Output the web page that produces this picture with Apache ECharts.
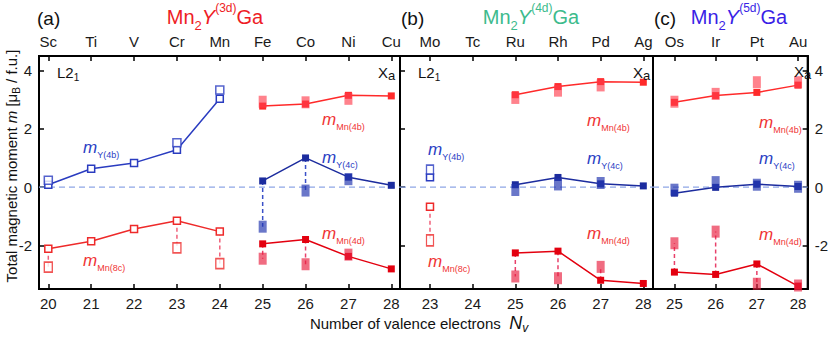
<!DOCTYPE html>
<html><head><meta charset="utf-8">
<script src="https://cdn.jsdelivr.net/npm/echarts@6/dist/echarts.min.js"></script>
<style>html,body{margin:0;padding:0;background:#fff}#c{width:831px;height:338px}</style>
</head><body><div id="c"></div>
<script>
// ---------- DATA ----------
// Panel (a) Mn2Y(3d)Ga
const elemA = ['Sc','Ti','V','Cr','Mn','Fe','Co','Ni','Cu'];
const nvA = [20,21,22,23,24,25,26,27,28];
const nvA_L21 = [20,21,22,23,24];
const a_mY4b = [0.08,0.63,0.83,1.28,3.03];
const a_mY4b_alt = [0.23,null,null,1.52,3.33];
const a_mMn8c = [-2.12,-1.86,-1.44,-1.16,-1.53];
const a_mMn8c_alt = [-2.75,null,null,-2.09,-2.63];
const nvA_Xa = [25,26,27,28];
const a_mMn4b = [2.78,2.85,3.15,3.13];
const a_mMn4b_alt = [2.93,2.91,3.03,null];
const a_mY4c = [0.21,1.00,0.34,0.06];
const a_mY4c_alt = [-1.36,-0.12,0.27,null];
const a_mMn4d = [-1.95,-1.80,-2.38,-2.81];
const a_mMn4d_alt = [-2.46,-2.65,-2.32,null];
// Panel (b) Mn2Y(4d)Ga
const elemB = ['Mo','Tc','Ru','Rh','Pd','Ag'];
const nvB = [23,24,25,26,27,28];
const nvB_L21 = [23];
const b_mY4b = [0.34];
const b_mY4b_alt = [0.60];
const b_mMn8c = [-0.68];
const b_mMn8c_alt = [-1.83];
const nvB_Xa = [25,26,27,28];
const b_mMn4b = [3.17,3.45,3.62,3.60];
const b_mMn4b_alt = [3.06,3.31,3.49,null];
const b_mY4c = [0.08,0.33,0.11,0.04];
const b_mY4c_alt = [-0.10,0.09,0.14,null];
const b_mMn4d = [-2.26,-2.20,-3.20,-3.31];
const b_mMn4d_alt = [-3.07,-3.13,-2.74,null];
// Panel (c) Mn2Y(5d)Ga
const elemC = ['Os','Ir','Pt','Au'];
const nvC = [25,26,27,28];
const c_mMn4b = [2.91,3.14,3.25,3.50];
const c_mMn4b_alt = [2.93,3.20,3.60,3.60];
const c_mY4c = [-0.21,-0.01,0.10,0.02];
const c_mY4c_alt = [-0.09,0.17,0.08,0.01];
const c_mMn4d = [-2.92,-3.00,-2.64,-3.40];
const c_mMn4d_alt = [-1.93,-1.53,-3.32,-3.38];
const yTicks = [-2,0,2,4];

// ---------- STYLE ----------
const FONT = "'Liberation Sans Narrow','Liberation Sans',Arial,sans-serif";
const RED = '#ff2a2a', RED_D = '#e3000f', RED_ALT = 'rgba(232,30,62,0.82)', RED_ALT2 = 'rgba(255,60,75,0.8)';
const BLUE = '#1c2c9e', BLUE_O = '#2a3cc0', BLUE_ALT = 'rgba(35,55,175,0.85)';
const RED_O = '#ee2a2a';
const ZERO = '#8ea6e6';
const xRange = [[19.783, 28.203], [22.297, 28.227], [24.48, 28.233]];

const chart = echarts.init(document.getElementById('c'), null, {renderer:'svg', width:831, height:338});

function xAx(gi, vals, pos, names, first){
  return {type:'value', gridIndex:gi, position:pos, min:xRange[gi][0], max:xRange[gi][1],
    axisLine:{show:true, onZero:false, lineStyle:{color:'#000', width:2}},
    axisTick:{show:true, inside:true, length:5, lineStyle:{color:'#000', width:1.5}, customValues:vals},
    axisLabel:{show:true, customValues:vals, fontSize:15, color:'#1a1a1a', fontFamily:FONT, margin:7,
      formatter: names ? (v => names[Math.round(v) - first]) : (v => String(v))},
    splitLine:{show:false}};
}
function yAx(gi, pos, ticks, labels){
  return {type:'value', gridIndex:gi, position:pos, min:-3.5, max:4.5,
    axisLine:{show:true, onZero:false, lineStyle:{color:'#000', width:2}},
    axisTick:{show:ticks, inside:true, length:5, lineStyle:{color:'#000', width:1.5}, customValues:yTicks},
    axisLabel:{show:labels, customValues:yTicks, fontSize:15, color:'#1a1a1a', fontFamily:FONT, margin:7},
    splitLine:{show:false}};
}

const series = [];
// zero reference line in each panel (spans the axis range)
[0,1,2].forEach(gi => series.push({type:'line', xAxisIndex:gi*2, yAxisIndex:gi, symbol:'none', z:1, silent:true,
  data:[[xRange[gi][0],0],[xRange[gi][1],0]], lineStyle:{color:ZERO, width:1.2, type:[6,4]}}));

function addPair(gi, yi, xs, main, alt, opt){
  const pts = xs.map((x,i)=>[x, main[i]]);
  series.push({type:'line', xAxisIndex:gi*2, yAxisIndex:yi, data:pts, symbol:'rect', symbolSize:[7,7],
    lineStyle:{color:opt.color, width:1.5}, z:4,
    itemStyle: opt.open ? {color:'#fff', borderColor:opt.color, borderWidth:1.5} : {color:opt.color}});
  const altPts = [];
  xs.forEach((x,i)=>{ if (alt[i] !== null && alt[i] !== undefined) altPts.push([x, alt[i]]); });
  series.push({type:'scatter', xAxisIndex:gi*2, yAxisIndex:yi, data:altPts, symbol:'rect',
    symbolSize: opt.altSize || [8,12], z:5,
    itemStyle: opt.open ? {color:'#fff', borderColor:opt.color, borderWidth:1.5} : {color:opt.altColor}});
  if (opt.dashed){
    xs.forEach((x,i)=>{
      if (alt[i] === null || alt[i] === undefined) return;
      series.push({type:'line', xAxisIndex:gi*2, yAxisIndex:yi, data:[[x, main[i]],[x, alt[i]]],
        symbol:'none', z:3, lineStyle:{color:opt.dashColor||opt.color, width:1.5, type:[4,3]}});
    });
  }
}
// panel a
addPair(0,0,nvA_L21,a_mY4b,a_mY4b_alt,{color:BLUE_O, open:true, altSize:[8,8]});
addPair(0,0,nvA_L21,a_mMn8c,a_mMn8c_alt,{color:RED_O, open:true, altSize:[8,10], dashed:true, dashColor:'#f0607a'});
addPair(0,0,nvA_Xa,a_mMn4b,a_mMn4b_alt,{color:RED, altColor:RED_ALT2});
addPair(0,0,nvA_Xa,a_mY4c,a_mY4c_alt,{color:BLUE, altColor:BLUE_ALT, dashed:true, dashColor:'#3a50c8'});
addPair(0,0,nvA_Xa,a_mMn4d,a_mMn4d_alt,{color:RED_D, altColor:RED_ALT, dashed:true, dashColor:'#e8406a'});
// panel b
addPair(1,1,nvB_L21,b_mY4b,b_mY4b_alt,{color:BLUE_O, open:true, altSize:[7,9]});
addPair(1,1,nvB_L21,b_mMn8c,b_mMn8c_alt,{color:RED_O, open:true, altSize:[7,11], dashed:true, dashColor:'#f0607a'});
addPair(1,1,nvB_Xa,b_mMn4b,b_mMn4b_alt,{color:RED, altColor:RED_ALT2});
addPair(1,1,nvB_Xa,b_mY4c,b_mY4c_alt,{color:BLUE, altColor:BLUE_ALT});
addPair(1,1,nvB_Xa,b_mMn4d,b_mMn4d_alt,{color:RED_D, altColor:RED_ALT, dashed:true, dashColor:'#e8406a'});
// panel c
addPair(2,2,nvC,c_mMn4b,c_mMn4b_alt,{color:RED, altColor:RED_ALT2});
addPair(2,2,nvC,c_mY4c,c_mY4c_alt,{color:BLUE, altColor:BLUE_ALT});
addPair(2,2,nvC,c_mMn4d,c_mMn4d_alt,{color:RED_D, altColor:RED_ALT, dashed:true, dashColor:'#e8406a'});

// ---------- TEXT ----------
const R = {
  m:{fontSize:17, fontStyle:'italic', fontFamily:FONT, lineHeight:24, verticalAlign:'middle'},
  s:{fontSize:9, fontFamily:FONT, lineHeight:10, verticalAlign:'bottom'}
};
function mLabel(x, y, sub, color){
  return {type:'text', x, y, z:50, style:{text:'{m|m}{s|'+sub+'}', fill:color, verticalAlign:'middle', align:'left',
    rich:{m:Object.assign({fill:color},R.m), s:Object.assign({fill:color},R.s)}}};
}
function titleText(cx, y, sup, color){
  const t = {fontSize:20, fontFamily:FONT, lineHeight:30, fill:color, verticalAlign:'middle'};
  return {type:'text', x:cx, y, z:50, style:{text:'{t|Mn}{s|2}{i|Y}{p|('+sup+')}{t|Ga}', fill:color, align:'center', verticalAlign:'middle',
    rich:{t, i:Object.assign({}, t, {fontStyle:'italic'}),
      s:{fontSize:13, fontFamily:FONT, lineHeight:13, fill:color, verticalAlign:'bottom'},
      p:{fontSize:12, fontFamily:FONT, lineHeight:13, fill:color, verticalAlign:'top'}}}};
}
function plain(x, y, text, size){
  return {type:'text', x, y, z:50, style:{text, fill:'#111', font:size+'px '+FONT, verticalAlign:'middle', align:'left'}};
}
function subText(x, y, main, sub, subSize){
  return {type:'text', x, y, z:50, style:{text:'{t|'+main+'}{s|'+sub+'}', fill:'#111', verticalAlign:'middle', align:'left',
    rich:{t:{fontSize:15, fontFamily:FONT, lineHeight:20, fill:'#111', verticalAlign:'middle'},
          s:{fontSize:subSize, fontFamily:FONT, lineHeight:subSize, fill:'#111', verticalAlign:'bottom'}}}};
}
const LBLUE = '#2a40c4', LRED = '#f03434';
const graphic = [
  plain(37, 18, '(a)', 19), plain(401, 18, '(b)', 19), plain(654, 18, '(c)', 19),
  titleText(215, 17, '3d', '#ee1c25'), titleText(531, 17, '4d', '#3dbb8c'), titleText(739, 17, '5d', '#3a1fe6'),
  subText(57, 72, 'L2', '1', 10), subText(418, 72, 'L2', '1', 10),
  subText(378, 72, 'X', 'a', 13), subText(633, 72, 'X', 'a', 13), subText(794, 71, 'X', 'a', 13),
  mLabel(83, 147, 'Y(4b)', LBLUE), mLabel(83, 260, 'Mn(8c)', LRED),
  mLabel(322, 119, 'Mn(4b)', LRED), mLabel(322, 157, 'Y(4c)', LBLUE), mLabel(322, 233, 'Mn(4d)', LRED),
  mLabel(428, 149, 'Y(4b)', LBLUE), mLabel(428, 261, 'Mn(8c)', LRED),
  mLabel(587, 120, 'Mn(4b)', LRED), mLabel(587, 158, 'Y(4c)', LBLUE), mLabel(587, 233, 'Mn(4d)', LRED),
  mLabel(759, 122, 'Mn(4b)', LRED), mLabel(759, 158, 'Y(4c)', LBLUE), mLabel(759, 234, 'Mn(4d)', LRED),
  {type:'text', x:419, y:323, z:50, style:{text:'{t|Number of valence electrons  }{i|N}{s|v}', fill:'#111', align:'center', verticalAlign:'middle',
    rich:{t:{fontSize:15, fontFamily:FONT, lineHeight:22, fill:'#111', verticalAlign:'middle'},
          i:{fontSize:18, fontStyle:'italic', fontFamily:FONT, lineHeight:22, fill:'#111', verticalAlign:'middle'},
          s:{fontSize:12, fontStyle:'italic', fontFamily:FONT, lineHeight:12, fill:'#111', verticalAlign:'bottom'}}}},
  {type:'text', x:11, y:166, rotation:Math.PI/2, z:50, style:{text:'{t|Total magnetic moment }{i|m}{t| [μ}{s|B}{t| / f.u.]}', fill:'#111', align:'center', verticalAlign:'middle',
    rich:{t:{fontSize:15, fontFamily:FONT, lineHeight:20, fill:'#111', verticalAlign:'middle'},
          i:{fontSize:15, fontStyle:'italic', fontFamily:FONT, lineHeight:20, fill:'#111', verticalAlign:'middle'},
          s:{fontSize:10, fontFamily:FONT, lineHeight:10, fill:'#111', verticalAlign:'bottom'}}}}
];

const option = {
  animation:false, backgroundColor:'#fff',
  grid:[
    {left:39, top:56, width:361, height:233, show:true, borderColor:'#000', borderWidth:2, backgroundColor:'transparent'},
    {left:400, top:56, width:253, height:233, show:true, borderColor:'#000', borderWidth:2, backgroundColor:'transparent'},
    {left:653, top:56, width:161, height:233, show:true, borderColor:'#000', borderWidth:2, backgroundColor:'transparent'}
  ],
  xAxis:[
    xAx(0, nvA, 'bottom', null, 0), xAx(0, nvA, 'top', elemA, nvA[0]),
    xAx(1, nvB, 'bottom', null, 0), xAx(1, nvB, 'top', elemB, nvB[0]),
    xAx(2, nvC, 'bottom', null, 0), xAx(2, nvC, 'top', elemC, nvC[0])
  ],
  yAxis:[ yAx(0,'left',true,true), yAx(1,'left',true,false), yAx(2,'left',false,false), yAx(2,'right',true,true) ],
  series, graphic
};
chart.setOption(option);
</script></body></html>
